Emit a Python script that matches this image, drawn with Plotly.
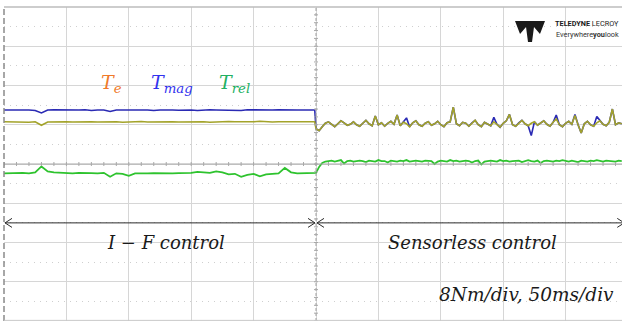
import numpy as np
import plotly.graph_objects as go

# ---------------- data (torque in Nm, time in ms) ----------------
# oscilloscope: 8 Nm/div, 50 ms/div, switch-over at 250 ms
te_before = [8.6, 8.55, 8.65, 8.6, 8.5, 8.6, 7.9, 8.55, 8.6, 8.65,
             8.6, 8.55, 8.6, 8.7, 8.6, 8.55, 8.6, 8.65, 8.6, 8.5,
             8.6, 8.6, 8.65, 8.55, 8.6, 8.6, 8.7, 8.6, 8.55, 8.6,
             8.6, 8.65, 8.6, 8.5, 8.6, 8.6, 8.65, 8.6, 8.55, 8.6,
             8.6, 8.7, 8.6, 8.55, 8.6, 8.6, 8.65, 8.6, 8.55, 8.6]
tmag_before = [11.0, 11.05, 10.95, 11.0, 11.0, 10.9, 10.4, 11.0, 11.05, 11.0,
               10.95, 11.0, 11.0, 11.05, 10.9, 11.0, 11.0, 10.7, 11.0, 11.0,
               10.95, 11.05, 11.0, 11.0, 10.9, 11.0, 11.05, 11.0, 10.95, 11.0,
               11.0, 10.9, 11.0, 11.05, 11.0, 10.95, 11.0, 11.0, 10.9, 11.05,
               11.0, 11.0, 10.95, 11.0, 11.05, 11.0, 10.9, 11.0, 11.0, 11.0]
trel_before = [-1.9, -1.85, -1.9, -1.8, -1.9, -1.7, -0.5, -1.5, -1.7, -1.8,
               -1.8, -1.9, -1.8, -1.9, -1.85, -1.9, -1.8, -2.6, -1.9, -2.0,
               -2.4, -1.9, -1.95, -1.9, -1.85, -1.9, -1.8, -1.9, -1.85, -1.9,
               -1.8, -1.6, -1.7, -1.8, -1.5, -1.7, -2.1, -2.0, -2.6, -2.2,
               -2.0, -2.5, -2.1, -2.0, -1.9, -0.8, -1.7, -1.9, -1.85, -1.9]

te_after = [7.2, 6.8, 7.6, 8.3, 8.6, 8.0, 7.6, 8.2, 8.8, 8.4,
            7.9, 8.1, 8.6, 8.0, 7.7, 8.3, 8.9, 8.2, 7.8, 9.8,
            8.0, 8.4, 7.7, 8.3, 8.7, 8.1, 10.0, 7.8, 8.5, 8.2,
            7.6, 8.4, 8.8, 8.0, 7.7, 8.3, 8.6, 7.9, 8.2, 8.7,
            8.0, 7.6, 8.4, 8.6, 11.6, 8.2, 7.8, 8.5, 8.3, 7.7,
            8.4, 8.9, 8.0, 7.6, 8.5, 8.2, 7.8, 8.6, 8.1, 7.5,
            8.3, 8.8, 10.1, 8.0, 7.7, 8.4, 8.9, 8.2, 7.8, 8.3,
            8.6, 7.9, 8.4, 8.8, 8.1, 7.7, 8.5, 9.2, 8.0, 7.6,
            8.3, 8.7, 8.1, 9.9, 8.0, 6.3, 8.2, 8.7, 8.0, 7.7,
            8.4, 8.8, 8.1, 7.8, 8.5, 11.2, 8.0, 8.4, 8.2]
# Tmag follows Te after switch-over, except where its own spikes show
tmag_after_spikes = {29: 9.4, 57: 9.5, 69: 5.8, 77: 10.0, 83: 10.1, 90: 9.7}
trel_after = [-1.8, -0.6, 0.2, 0.5, 0.6, 0.7, 0.5, 0.6, 0.8, 0.1,
              0.6, 0.7, 0.5, 0.6, 0.7, 0.6, 0.4, 0.7, 0.6, 0.5,
              0.8, 0.6, 0.6, 0.3, 0.7, 0.6, 0.5, 0.7, 0.6, 0.8,
              0.5, 0.6, 0.7, 0.6, 0.5, 0.7, 0.6, 0.6, 0.0, 0.5,
              0.7, 0.6, 0.5, 0.8, 0.6, 0.7, 0.5, 0.6, 0.7, 0.6,
              0.3, 0.6, 0.7, -0.1, 0.5, 0.6, 0.7, 0.6, 0.5, 0.8,
              0.6, 0.7, 0.5, 0.6, 0.6, 0.7, 0.4, 0.6, 0.8, 0.6,
              0.5, 0.7, 0.2, 0.6, 0.7, 0.6, 0.5, 0.7, 0.6, 0.8,
              0.6, 0.5, 0.7, 0.6, 0.4, 0.7, 0.6, 0.5, 0.7, 0.6,
              0.8, 0.6, 0.5, 0.7, 0.6, 0.6, 0.5, 0.7, 0.6]

labels = ["T<sub>e</sub>", "T<sub>mag</sub>", "T<sub>rel</sub>"]
phase_labels = ["I − F control", "Sensorless control"]
scale_label = "8Nm/div, 50ms/div"

# sample times
t_before = list(5.0 * np.arange(len(te_before))) + [249.0]
t_after = list(250.0 + 2.5 * np.arange(len(te_after)))

tmag_after = list(te_after)
for i, v in tmag_after_spikes.items():
    tmag_after[i] = v

te = te_before + [te_before[-1]] + te_after
tmag = tmag_before + [tmag_before[-1]] + tmag_after
trel_t = list(5.0 * np.arange(len(trel_before))) + [249.0] + list(250.0 + 2.5 * np.arange(len(trel_after)))
trel = trel_before + [trel_before[-1]] + trel_after
t_all = t_before + t_after

C_TE, C_TMAG, C_TREL = "#a3a32a", "#2a2ab4", "#2ec32e"

fig = go.Figure()
fig.add_trace(go.Scatter(x=t_all, y=tmag, mode="lines", line=dict(color=C_TMAG, width=1.6), hoverinfo="skip"))
fig.add_trace(go.Scatter(x=trel_t, y=trel, mode="lines", line=dict(color=C_TREL, width=1.8), hoverinfo="skip"))
fig.add_trace(go.Scatter(x=t_all, y=te, mode="lines", line=dict(color=C_TE, width=1.6), hoverinfo="skip"))

PXX = 50 / 62.4   # ms per pixel
PXY = 8 / 39.25   # Nm per pixel

shapes = []
# center lines with small ticks
shapes.append(dict(type="line", xref="x", yref="y", x0=0, x1=500, y0=0, y1=0,
                   line=dict(color="#a8a8a8", width=1)))
shapes.append(dict(type="line", xref="x", yref="y", x0=250, x1=250, y0=-32, y1=32,
                   line=dict(color="#a0a0a0", width=1, dash="3px,2px")))
for tx in np.arange(0, 500, 10):
    shapes.append(dict(type="line", xref="x", yref="y", x0=tx, x1=tx, y0=-2 * PXY, y1=2 * PXY,
                       line=dict(color="#a8a8a8", width=1)))
for ty in np.arange(-32, 32, 1.6):
    shapes.append(dict(type="line", xref="x", yref="y", x0=250 - 2 * PXX, x1=250 + 2 * PXX, y0=ty, y1=ty,
                       line=dict(color="#a8a8a8", width=1)))
# frame: top solid, left dashed, bottom
shapes.append(dict(type="line", xref="paper", yref="paper", x0=0, x1=1, y0=1, y1=1,
                   line=dict(color="#bdbdbd", width=1.5)))
shapes.append(dict(type="line", xref="paper", yref="paper", x0=0, x1=0, y0=0, y1=1,
                   line=dict(color="#8a8a8a", width=1.5, dash="6px,3px")))
shapes.append(dict(type="line", xref="paper", yref="paper", x0=0, x1=1, y0=0.002, y1=0.002,
                   line=dict(color="#c8c8c8", width=1)))

# double arrows
ya = -12.0
aw, ah = 7 * PXX, 4.5 * PXY
ac = dict(color="#2b2b2b", width=1)
for (a, b) in [(0.8, 249.2), (250.8, 497.0)]:
    shapes.append(dict(type="line", xref="x", yref="y", x0=a, x1=b, y0=ya, y1=ya, line=ac))
    for s in (1, -1):
        shapes.append(dict(type="line", xref="x", yref="y", x0=a, x1=a + aw, y0=ya, y1=ya + s * ah, line=ac))
        shapes.append(dict(type="line", xref="x", yref="y", x0=b, x1=b - aw, y0=ya, y1=ya + s * ah, line=ac))

# logo glyph (pixel outline converted to paper coordinates)
logo_px = [(515, 21), (545, 21), (540, 34), (534, 27), (532, 42), (528, 42), (526, 27), (520, 34)]
path = "M " + " L ".join(f"{(x - 4) / 618:.4f},{(321 - y) / 314:.4f}" for x, y in logo_px) + " Z"
shapes.append(dict(type="path", xref="paper", yref="paper", path=path, fillcolor="#1a1a1a",
                   line=dict(width=0)))

serif = "DejaVu Serif"
ann = []
label_pos = [(76.0, "#f07a2a"), (116.0, "#3232ee"), (171.0, "#22b062")]
for lab, (xl, tc) in zip(labels, label_pos):
    ann.append(dict(x=xl, y=16.5, xref="x", yref="y", text=f"<i>{lab}</i>", showarrow=False,
                    xanchor="left", yanchor="middle", font=dict(family=serif, size=19, color=tc)))
ann.append(dict(x=130, y=-16.1, xref="x", yref="y", text=f"<i>{phase_labels[0]}</i>", showarrow=False,
                xanchor="center", yanchor="middle", font=dict(family=serif, size=18, color="#1a1a1a")))
ann.append(dict(x=375, y=-16.1, xref="x", yref="y", text=f"<i>{phase_labels[1]}</i>", showarrow=False,
                xanchor="center", yanchor="middle", font=dict(family=serif, size=18, color="#1a1a1a")))
ann.append(dict(x=418.5, y=-26.6, xref="x", yref="y", text=f"<i>{scale_label}</i>", showarrow=False,
                xanchor="center", yanchor="middle", font=dict(family=serif, size=18.5, color="#1a1a1a")))
ann.append(dict(x=0.998, y=(321 - 24) / 314, xref="paper", yref="paper",
                text="<b>TELEDYNE</b> LECROY", showarrow=False, xanchor="right", yanchor="middle",
                font=dict(family="Liberation Sans Narrow, Roboto, sans-serif", size=7.3, color="#1a1a1a")))
ann.append(dict(x=0.998, y=(321 - 35) / 314, xref="paper", yref="paper",
                text="Everywhere<b>you</b>look", showarrow=False, xanchor="right", yanchor="middle",
                font=dict(family="Liberation Sans Narrow, Roboto, sans-serif", size=7.3, color="#333333")))

fig.update_layout(
    width=622, height=321,
    margin=dict(l=4, r=0, t=7, b=0),
    paper_bgcolor="white", plot_bgcolor="white",
    showlegend=False,
    shapes=shapes, annotations=ann,
    xaxis=dict(range=[0, 618 * PXX], dtick=50, tick0=0, showgrid=True, gridcolor="#d6d6d6", gridwidth=1,
               zeroline=False, showticklabels=False, ticks="", showline=False, fixedrange=True),
    yaxis=dict(range=[-32, 32], dtick=8, tick0=0, showgrid=True, gridcolor="#d6d6d6", gridwidth=1,
               zeroline=False, showticklabels=False, ticks="", showline=False, fixedrange=True,
               minor=dict(dtick=4, tick0=4, showgrid=True, gridcolor="#cfcfcf", griddash="1px,5px", gridwidth=1)),
)

fig.write_html("out.html", config={"displayModeBar": False},
               post_script="document.body.style.margin='0';document.body.style.padding='0';")
